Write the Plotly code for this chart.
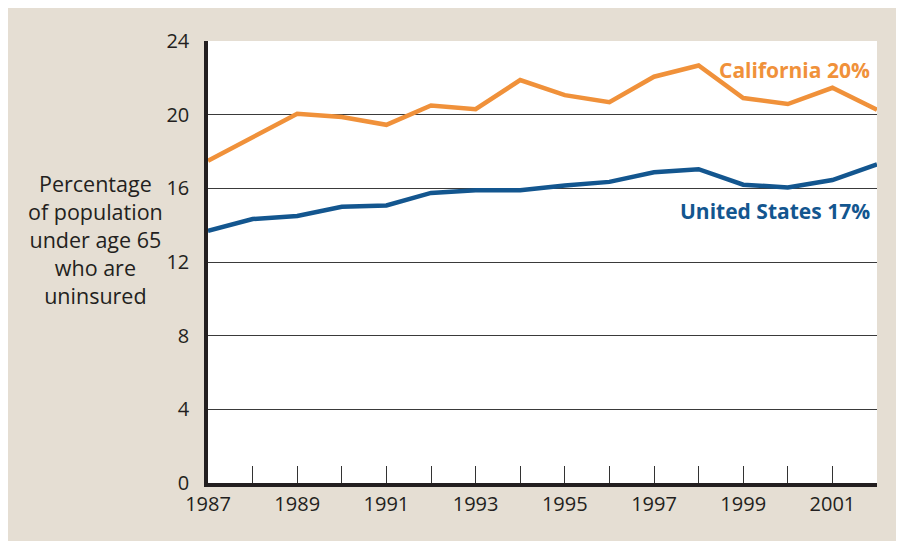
import plotly.graph_objects as go

years = list(range(1987, 2003))
california = [17.5, 18.8, 20.05, 19.87, 19.45, 20.5, 20.3, 21.88, 21.06, 20.68, 22.06, 22.67, 20.9, 20.58, 21.46, 20.27]
united_states = [13.69, 14.33, 14.5, 15.0, 15.07, 15.75, 15.9, 15.9, 16.15, 16.35, 16.87, 17.04, 16.2, 16.05, 16.45, 17.3]
y_ticks = [0, 4, 8, 12, 16, 20, 24]
x_tick_text = [str(y) if y % 2 == 1 else "" for y in years]

ORANGE = "#f0913a"
BLUE = "#13568f"
BEIGE = "#e5ded3"
TXT = "#231f20"
FONT = "Open Sans"

fig = go.Figure()
fig.add_trace(go.Scatter(x=years, y=california, mode="lines",
                         line=dict(color=ORANGE, width=4.5), hoverinfo="skip"))
fig.add_trace(go.Scatter(x=years, y=united_states, mode="lines",
                         line=dict(color=BLUE, width=4.5), hoverinfo="skip"))

fig.update_layout(
    width=892, height=533,
    margin=dict(l=200, r=23, t=33, b=58),
    paper_bgcolor=BEIGE, plot_bgcolor="white",
    showlegend=False,
    font=dict(family=FONT, size=20, color=TXT),
)
fig.update_xaxes(
    range=[1987, 2002], tickvals=years, ticktext=x_tick_text,
    ticks="inside", ticklen=17, tickwidth=1.3, tickcolor="#333333",
    showgrid=False, showline=True, linewidth=3.5, linecolor=TXT,
    tickfont=dict(size=20, color=TXT), ticklabelstandoff=0,
    zeroline=False,
)
fig.update_yaxes(
    range=[0, 24], tickvals=y_ticks, ticks="", showgrid=True,
    gridcolor="#3a3a3a", gridwidth=1, showline=True, linewidth=3.5,
    linecolor=TXT, tickfont=dict(size=20, color=TXT), ticklabelstandoff=11,
    zeroline=False,
)

fig.add_annotation(text="Percentage<br>of population<br>under age 65<br>who are<br>uninsured",
                   xref="paper", yref="paper", x=(95 - 208) / 669, y=(483 - 240) / 442,
                   xanchor="center", yanchor="middle", showarrow=False, align="center",
                   font=dict(size=21.5, color=TXT, family=FONT))
fig.add_annotation(text="<b>California 20%</b>", xref="paper", yref="paper",
                   x=(872 - 208) / 669, y=(483 - 70) / 442, xanchor="right", yanchor="middle",
                   showarrow=False, font=dict(size=21, color=ORANGE, family=FONT))
fig.add_annotation(text="<b>United States 17%</b>", xref="paper", yref="paper",
                   x=(872 - 208) / 669, y=(483 - 211) / 442, xanchor="right", yanchor="middle",
                   showarrow=False, font=dict(size=21, color=BLUE, family=FONT))

fig.write_html("out.html")
